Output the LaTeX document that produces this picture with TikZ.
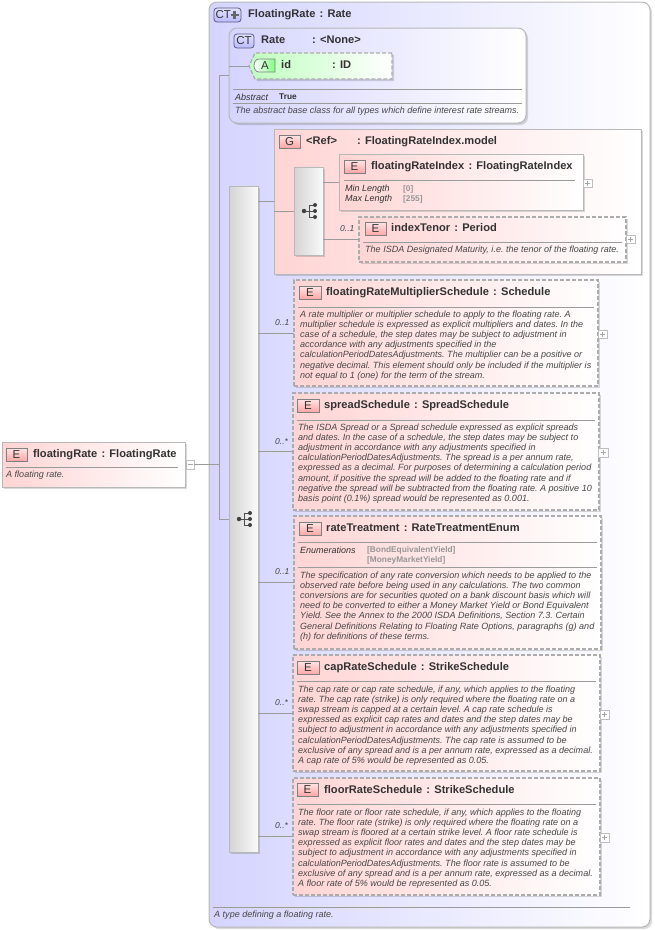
\documentclass[tikz,border=0pt]{standalone}
\usepackage{fontspec}
\setmainfont{Liberation Sans}
\usetikzlibrary{shadows}
\frenchspacing
\definecolor{edgegray}{RGB}{184,184,184}
\definecolor{dashgray}{RGB}{172,172,172}
\definecolor{linegray}{RGB}{155,155,155}
\definecolor{txtdark}{RGB}{50,50,50}
\definecolor{txtdesc}{RGB}{70,70,70}
\definecolor{enumgray}{RGB}{150,150,150}
\definecolor{lav}{RGB}{212,212,255}
\definecolor{pinkf}{RGB}{255,212,212}
\definecolor{greenf}{RGB}{190,255,190}
\newcommand{\cl}{\hspace{4.2pt}:\hspace{4.2pt}}
\tikzset{
  softshadow/.style={general shadow={shadow xshift=2pt,shadow yshift=-2pt,fill=black,opacity=.15}},
  basebox/.style={rectangle,inner sep=0pt,outer sep=0pt,draw=edgegray,line width=1pt,softshadow},
  ctbox/.style={basebox,rounded corners=8pt,left color=lav,right color=white},
  gbox/.style={basebox,left color=pinkf,right color=white},
  ebox/.style={basebox,left color=pinkf,right color=white},
  eopt/.style={ebox,draw=dashgray,line width=1.25pt,dash pattern=on 4pt off 2pt},
  seqbox/.style={basebox,left color=black!17,right color=black!2},
  badgebase/.style={rectangle,inner sep=0pt,outer sep=0pt,text=txtdark,font=\fontsize{11.5}{12}\selectfont},
  ebadge/.style={badgebase,draw=black!50,line width=.8pt,top color=pinkf!60,bottom color=red!35!white},
  ctbadge/.style={badgebase,draw=blue!25!black!65,line width=.8pt,rounded corners=3pt,top color=lav!70,bottom color=blue!27!white},
  ttl/.style={anchor=base west,inner sep=0pt,text=txtdark,font=\bfseries\fontsize{11.1}{12}\selectfont},
  desc/.style={anchor=north west,inner sep=0pt,align=left,text=txtdesc,font=\itshape\fontsize{9.03}{10.13}\selectfont},
  occ/.style={anchor=base west,inner sep=0pt,text=txtdesc,font=\itshape\fontsize{8.5}{10}\selectfont},
  propname/.style={anchor=base west,inner sep=0pt,text=txtdark,font=\itshape\fontsize{9}{10}\selectfont},
  propval/.style={anchor=base west,inner sep=0pt,text=enumgray,font=\bfseries\fontsize{8.3}{10}\selectfont},
  trueval/.style={anchor=base west,inner sep=0pt,text=txtdark,font=\bfseries\fontsize{8.3}{10}\selectfont},
  sepline/.style={draw=linegray,line width=.8pt},
  conn/.style={draw=linegray,line width=.8pt},
  expander/.style={rectangle,inner sep=0pt,outer sep=0pt,draw=black!25,fill=white,line width=.8pt},
  plusbox/.style={expander,path picture={\draw[black!35,line width=.6pt]
     ([xshift=-2.5pt]path picture bounding box.center)--([xshift=2.5pt]path picture bounding box.center)
     ([yshift=-2.5pt]path picture bounding box.center)--([yshift=2.5pt]path picture bounding box.center);}},
  minusbox/.style={expander,path picture={\draw[black!35,line width=.6pt]
     ([xshift=-2.5pt]path picture bounding box.center)--([xshift=2.5pt]path picture bounding box.center);}},
  seqsym/.pic={
     \draw[black!70,line width=.9pt] (-4.5,0)--(0,0) (5,-6)--(0,-6)--(0,6)--(5,6) (0,0)--(5,0);
     \fill[black!75] (-5,0) circle (2.2) (6,-6) circle (2) (6,0) circle (2) (6,6) circle (2);
  },
}
\newcommand{\bx}[7][]{\node[#6,anchor=center,minimum width={(#4-#2)*1pt},minimum height={(#5-#3)*1pt}] (#1) at ({(#2+#4)/2},{(#3+#5)/2}) {#7};}
\begin{document}
\begin{tikzpicture}[x=1pt,y=-1pt]
\useasboundingbox (0,0) rectangle (654,930);
% ---- outer complex type
\bx[outer]{209}{2}{650}{927}{ctbox}{}
\draw[sepline] (213,907)--(630,907);
\node[desc] (outerdesc) at (214,910.5) {A type defining a floating rate.};
\bx[outerbadge]{214}{8}{241}{22}{ctbadge}{}
\node[badgebase,anchor=west] (outerbadgetxt) at (215.5,15) {CT};
\draw[black!60,line width=2.6pt] (230.5,15)--(238.5,15) (234.5,11)--(234.5,19);
\node[ttl] (outertitle) at (248,17) {FloatingRate\cl Rate};
% ---- base type
\bx[rate]{229}{28}{526}{123}{ctbox}{}
\bx[ratebadge]{234}{34}{254}{48}{ctbadge}{CT}
\node[ttl] (ratetitle) at (261,43) {Rate};
\node[ttl] (ratetype) at (312,43) {:\hspace{4.2pt}<None>};
\path[draw=dashgray,line width=1.25pt,dash pattern=on 4pt off 2pt,left color=greenf,right color=white,softshadow]
   (392,53)--(255,53)--(249,66)--(255,79)--(392,79)--cycle;
\coordinate (idtip) at (249,66);
\draw[draw=black!50,line width=.8pt,left color=white,right color=green!50!white]
   (275,59)--(259,59)to[out=180,in=90](254,65.5)to[out=-90,in=180](259,72)--(275,72)--cycle;
\node[badgebase] (idbadge) at (265,66) {A};
\node[ttl] (idname) at (281,68) {id};
\node[ttl] (idtype) at (332,68) {:\hspace{4.2pt}ID};
\draw[sepline] (233,89)--(522,89) (233,103)--(522,103);
\node[propname] (absname) at (235,100) {Abstract};
\node[trueval] (absval) at (279,99) {True};
\node[desc] (ratedesc) at (235,106.7) {The abstract base class for all types which define interest rate streams.};
% ---- main sequence
\bx[mainseq]{229}{186}{258}{852}{seqbox}{}
\pic at (244,519) {seqsym};
% ---- group
\bx[grp]{274}{129}{641}{274}{gbox}{}
\bx[grpbadge]{279}{135}{300}{148}{ebadge}{G}
\node[ttl] (grptitle) at (306,144) {<Ref>};
\node[ttl] (grptype) at (357,144) {:\hspace{4.2pt}FloatingRateIndex.model};
\bx[innerseq]{294}{167}{323}{255}{seqbox}{}
\pic at (309,211) {seqsym};
% floatingRateIndex
\bx[fri]{339}{154}{583}{210}{ebox}{}
\bx[fribadge]{344}{160}{365}{173}{ebadge}{E}
\node[ttl] (frititle) at (371,169) {floatingRateIndex\cl FloatingRateIndex};
\draw[sepline] (344,180)--(575,180);
\node[propname] (friminn) at (345,191) {Min Length};
\node[propname] (frimaxn) at (345,201) {Max Length};
\node[propval] (friminv) at (403,191) {[0]};
\node[propval] (frimaxv) at (403,201) {[255]};
\bx[friplus]{583}{179}{592}{187}{plusbox}{}
% indexTenor
\bx[tenor]{359}{217}{626}{262}{eopt}{}
\bx[tenorbadge]{365}{222}{386}{235}{ebadge}{E}
\node[ttl] (tenortitle) at (391,231) {indexTenor\cl Period};
\draw[sepline] (363,242)--(622,242);
\node[desc] (tenordesc) at (365,245.7) {The ISDA Designated Maturity, i.e. the tenor of the floating rate.};
\node[occ] (tenorocc) at (340,231) {0..1};
\bx[tenorplus]{626}{235}{635}{243}{plusbox}{}
% floatingRateMultiplierSchedule
\bx[mult]{294}{280}{598}{386}{eopt}{}
\bx[multbadge]{299}{286}{321}{299}{ebadge}{E}
\node[ttl] (multtitle) at (326,295) {floatingRateMultiplierSchedule\cl Schedule};
\draw[sepline] (298,307)--(594,307);
\node[desc] (multdesc) at (300,310.7) {A rate multiplier or multiplier schedule to apply to the floating rate. A\\
multiplier schedule is expressed as explicit multipliers and dates. In the\\
case of a schedule, the step dates may be subject to adjustment in\\
accordance with any adjustments specified in the\\
calculationPeriodDatesAdjustments. The multiplier can be a positive or\\
negative decimal. This element should only be included if the multiplier is\\
not equal to 1 (one) for the term of the stream.};
\node[occ] (multocc) at (275,325) {0..1};
\bx[multplus]{598}{330}{607}{338}{plusbox}{}
% spreadSchedule
\bx[spread]{293}{393}{599}{510}{eopt}{}
\bx[spreadbadge]{297}{399}{319}{412}{ebadge}{E}
\node[ttl] (spreadtitle) at (324,408) {spreadSchedule\cl SpreadSchedule};
\draw[sepline] (297,420)--(595,420);
\node[desc] (spreaddesc) at (298,423.7) {The ISDA Spread or a Spread schedule expressed as explicit spreads\\
and dates. In the case of a schedule, the step dates may be subject to\\
adjustment in accordance with any adjustments specified in\\
calculationPeriodDatesAdjustments. The spread is a per annum rate,\\
expressed as a decimal. For purposes of determining a calculation period\\
amount, if positive the spread will be added to the floating rate and if\\
negative the spread will be subtracted from the floating rate. A positive 10\\
basis point (0.1\%) spread would be represented as 0.001.};
\node[occ] (spreadocc) at (275,444) {0..*};
\bx[spreadplus]{598}{448}{608}{457}{plusbox}{}
% rateTreatment
\bx[treat]{294}{516}{601}{649}{eopt}{}
\bx[treatbadge]{299}{522}{321}{535}{ebadge}{E}
\node[ttl] (treattitle) at (326,531) {rateTreatment\cl RateTreatmentEnum};
\draw[sepline] (298,542)--(597,542) (298,567)--(597,567);
\node[propname] (treatenum) at (300,553) {Enumerations};
\node[propval] (treatv1) at (367,552) {[BondEquivalentYield]};
\node[propval] (treatv2) at (367,562) {[MoneyMarketYield]};
\node[desc] (treatdesc) at (300,571.7) {The specification of any rate conversion which needs to be applied to the\\
observed rate before being used in any calculations. The two common\\
conversions are for securities quoted on a bank discount basis which will\\
need to be converted to either a Money Market Yield or Bond Equivalent\\
Yield. See the Annex to the 2000 ISDA Definitions, Section 7.3. Certain\\
General Definitions Relating to Floating Rate Options, paragraphs (g) and\\
(h) for definitions of these terms.};
\node[occ] (treatocc) at (275,574) {0..1};
% capRateSchedule
\bx[cap]{293}{655}{600}{771}{eopt}{}
\bx[capbadge]{297}{661}{319}{674}{ebadge}{E}
\node[ttl] (captitle) at (324,670) {capRateSchedule\cl StrikeSchedule};
\draw[sepline] (297,681)--(596,681);
\node[desc] (capdesc) at (298,685.7) {The cap rate or cap rate schedule, if any, which applies to the floating\\
rate. The cap rate (strike) is only required where the floating rate on a\\
swap stream is capped at a certain level. A cap rate schedule is\\
expressed as explicit cap rates and dates and the step dates may be\\
subject to adjustment in accordance with any adjustments specified in\\
calculationPeriodDatesAdjustments. The cap rate is assumed to be\\
exclusive of any spread and is a per annum rate, expressed as a decimal.\\
A cap rate of 5\% would be represented as 0.05.};
\node[occ] (capocc) at (275,705) {0..*};
\bx[capplus]{600}{710}{609}{719}{plusbox}{}
% floorRateSchedule
\bx[floor]{293}{778}{600}{895}{eopt}{}
\bx[floorbadge]{297}{783}{318}{796}{ebadge}{E}
\node[ttl] (floortitle) at (324,793) {floorRateSchedule\cl StrikeSchedule};
\draw[sepline] (297,804)--(596,804);
\node[desc] (floordesc) at (298,808.7) {The floor rate or floor rate schedule, if any, which applies to the floating\\
rate. The floor rate (strike) is only required where the floating rate on a\\
swap stream is floored at a certain strike level. A floor rate schedule is\\
expressed as explicit floor rates and dates and the step dates may be\\
subject to adjustment in accordance with any adjustments specified in\\
calculationPeriodDatesAdjustments. The floor rate is assumed to be\\
exclusive of any spread and is a per annum rate, expressed as a decimal.\\
A floor rate of 5\% would be represented as 0.05.};
\node[occ] (floorocc) at (275,828) {0..*};
\bx[floorplus]{600}{833}{609}{842}{plusbox}{}
% root element
\bx[root]{2}{442}{185}{487}{ebox}{}
\bx[rootbadge]{6}{448}{27}{461}{ebadge}{E}
\node[ttl] (roottitle) at (33,457) {floatingRate\cl FloatingRate};
\draw[sepline] (6,467)--(178,467);
\node[desc] (rootdesc) at (6,470.7) {A floating rate.};
\bx[rootminus]{186}{460}{194}{469}{minusbox}{}
% ---- connectors
\coordinate (trunk) at (219,75);
\draw[conn] (rootminus.east) -- (trunk |- rootminus.east);
\draw[conn] (rate.west) -- (trunk |- rate.west) -- (trunk |- mainseq.west) -- (mainseq.west);
\draw[conn] (rate.west |- idtip) -- (idtip);
\draw[conn] (mainseq.east |- grp.west) -- (grp.west);
\draw[conn] (grp.west |- innerseq.west) -- (innerseq.west);
\draw[conn] (innerseq.east |- fri.west) -- (fri.west);
\draw[conn] (innerseq.east |- tenor.west) -- (tenor.west);
\draw[conn] (mainseq.east |- mult.west) -- (mult.west);
\draw[conn] (mainseq.east |- spread.west) -- (spread.west);
\draw[conn] (mainseq.east |- treat.west) -- (treat.west);
\draw[conn] (mainseq.east |- cap.west) -- (cap.west);
\draw[conn] (mainseq.east |- floor.west) -- (floor.west);
\end{tikzpicture}
\end{document}
